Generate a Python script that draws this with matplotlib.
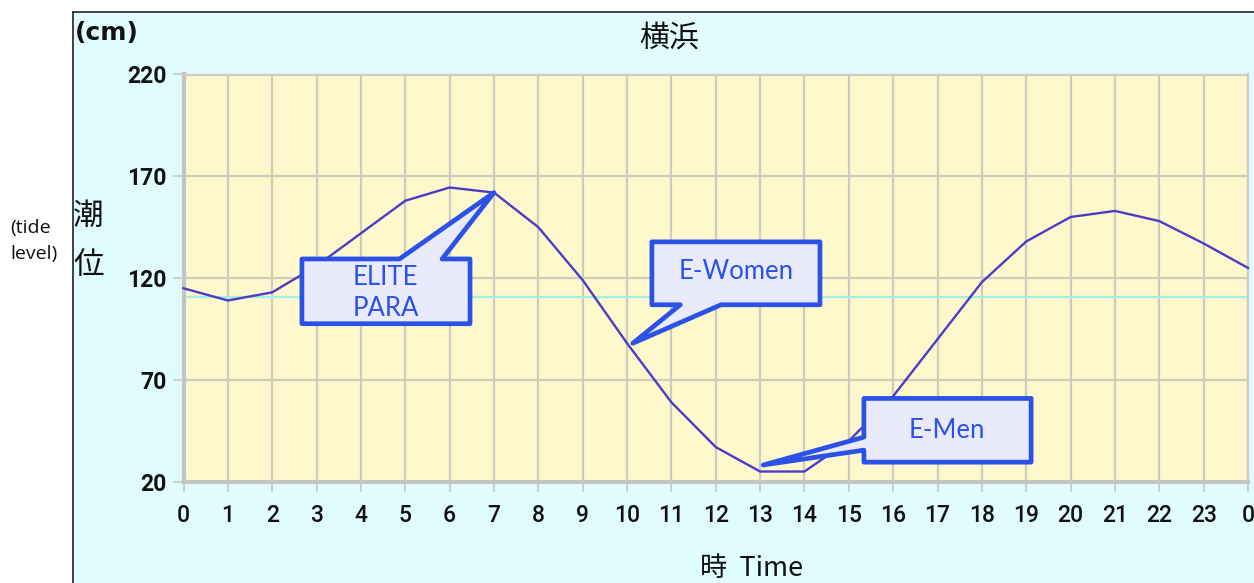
import matplotlib
matplotlib.use("Agg")
import matplotlib.pyplot as plt
from matplotlib.patches import Polygon, Rectangle
from matplotlib.lines import Line2D

# ---- data ----
hours = list(range(25))
hour_labels = [str(h) for h in range(24)] + ["0"]
tide_cm = [115, 109, 113, 126, 142, 158, 164.5, 162, 145, 119, 88, 59, 37, 25, 25,
           40, 62, 90, 118, 138, 150, 153, 148, 137, 125]
mean_level = 110.5
y_ticks = [20, 70, 120, 170, 220]
title = "横浜"
callout_labels = ["ELITE\nPARA", "E-Women", "E-Men"]

W, H = 1254, 583
fig = plt.figure(figsize=(W / 100, H / 100), dpi=100)
fig.patch.set_facecolor("white")

# panel background with black left/top border
fig.patches.append(Rectangle((73 / W, 0), 1 - 73 / W, (H - 12) / H, transform=fig.transFigure,
                             facecolor="#E0FCFF", edgecolor="none", zorder=-10))
fig.add_artist(Line2D([73 / W, 73 / W], [0, (H - 12) / H], transform=fig.transFigure,
                      color="#222222", lw=1.2, zorder=-5))
fig.add_artist(Line2D([73 / W, 1], [(H - 12) / H, (H - 12) / H], transform=fig.transFigure,
                      color="#222222", lw=1.2, zorder=-5))

left, right, top, bottom = 183.5, 1248, 74.5, 481.7
ax = fig.add_axes([left / W, 1 - bottom / H, (right - left) / W, (bottom - top) / H])
ax.set_facecolor("#FFF8CC")
ax.set_xlim(0, 24)
ax.set_ylim(20, 220)

ax.set_xticks(hours)
ax.set_xticklabels(hour_labels)
ax.set_yticks(y_ticks)
ax.set_yticklabels([str(v) for v in y_ticks])
ax.grid(True, color="#CFCBBE", lw=1.6, zorder=1)
ax.set_axisbelow(True)

for s in ["top", "right"]:
    ax.spines[s].set_color("#CFCBBE")
    ax.spines[s].set_linewidth(1.6)
for s in ["left", "bottom"]:
    ax.spines[s].set_color("#C4C4C4")
    ax.spines[s].set_linewidth(3)

ax.tick_params(axis="y", length=8, width=1.2, color="#C8C8C8", pad=4)
ax.tick_params(axis="x", length=7, width=1.2, color="#C8C8C8", pad=9)
for lab in ax.get_yticklabels():
    lab.set_fontfamily("Roboto")
    lab.set_fontweight("bold")
    lab.set_fontsize(16.5)
    lab.set_color("#111111")
for lab in ax.get_xticklabels():
    lab.set_fontfamily("Roboto")
    lab.set_fontweight("medium")
    lab.set_fontsize(16.5)
    lab.set_color("#111111")

ax.axhline(mean_level, color="#A0F0E4", lw=1.7, zorder=2)
ax.plot(hours, tide_cm, color="#4B3CC8", lw=1.7, zorder=3, clip_on=False)

# ---- callouts ----
edge = "#2A52E6"
face = "#E9EAFC"

def callout(poly, text, tx, ty):
    ax.add_patch(Polygon(poly, closed=True, facecolor=face, edgecolor=edge, lw=3.4,
                         joinstyle="round", zorder=5, clip_on=False))
    ax.text(tx, ty, text, ha="center", va="center", color=edge, fontsize=18.5,
            family="Lato", zorder=6, linespacing=1.3)

# ELITE PARA - tail points to hour 7
callout([(2.67, 129.4), (4.87, 129.4), (hours[7], tide_cm[7]), (5.83, 129.4),
         (6.46, 129.4), (6.46, 97.6), (2.67, 97.6)],
        callout_labels[0], 4.56, 112.8)
# E-Women
callout([(10.56, 137.8), (14.35, 137.8), (14.35, 106.9), (12.12, 106.9),
         (10.13, 88.0), (11.2, 106.9), (10.56, 106.9)],
        callout_labels[1], 12.45, 123.0)
# E-Men
callout([(15.34, 60.9), (19.11, 60.9), (19.11, 29.6), (15.34, 29.6), (15.34, 35.5),
         (13.07, 28.2), (15.34, 41.9)],
        callout_labels[2], 17.2, 45.0)

# ---- texts ----
cjk = ["Noto Sans CJK JP", "DejaVu Sans"]
fig.text(669 / W, 1 - 38 / H, title, ha="center", va="center", fontsize=21.5,
         family=cjk, color="#111111")
fig.text(75 / W, 1 - 33 / H, "(cm)", ha="left", va="center", fontsize=18,
         family="DejaVu Sans", weight="bold", color="#111111")
fig.text(88.5 / W, 1 - 216 / H, "潮", ha="center", va="center", fontsize=22,
         family=cjk, color="#111111")
fig.text(88.5 / W, 1 - 266 / H, "位", ha="center", va="center", fontsize=22,
         family=cjk, color="#111111")
fig.text(10 / W, 1 - 228 / H, "(tide", ha="left", va="center", fontsize=14,
         family="Open Sans", color="#111111")
fig.text(10 / W, 1 - 254 / H, "level)", ha="left", va="center", fontsize=14,
         family="Open Sans", color="#111111")
fig.text(752 / W, 1 - 568 / H, "時  Time", ha="center", va="center", fontsize=19.5,
         family=cjk, color="#111111")

fig.savefig("out.png", dpi=100)
